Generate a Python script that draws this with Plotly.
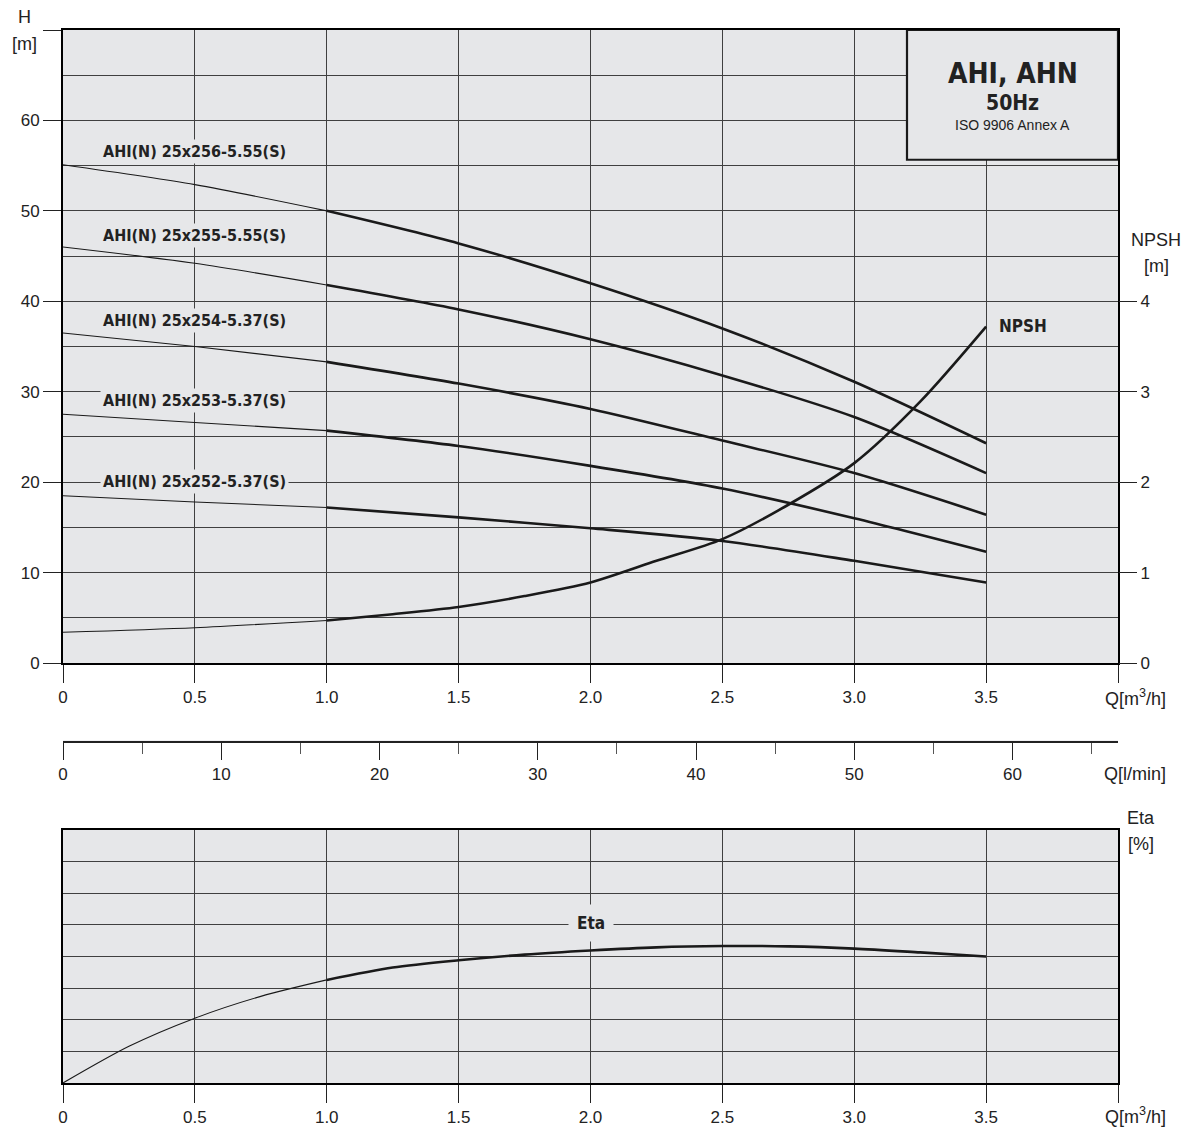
import plotly.graph_objects as go

# ---------------- data ----------------
Q = [0, 0.5, 1.0, 1.5, 2.0, 2.5, 3.0, 3.5]
H_256 = [55.1, 52.9, 50.0, 46.4, 42.0, 37.0, 31.1, 24.3]
H_255 = [46.0, 44.2, 41.8, 39.1, 35.8, 31.8, 27.2, 21.0]
H_254 = [36.5, 35.0, 33.3, 30.9, 28.1, 24.6, 21.0, 16.4]
H_253 = [27.5, 26.6, 25.7, 24.0, 21.8, 19.3, 16.0, 12.3]
H_252 = [18.5, 17.8, 17.2, 16.1, 14.9, 13.5, 11.3, 8.9]
curve_names = ["AHI(N) 25x256-5.55(S)", "AHI(N) 25x255-5.55(S)", "AHI(N) 25x254-5.37(S)",
               "AHI(N) 25x253-5.37(S)", "AHI(N) 25x252-5.37(S)"]
label_H = [56.6, 47.3, 37.9, 29.0, 20.1]

Q_npsh = [0, 0.5, 1.0, 1.25, 1.5, 1.75, 2.0, 2.25, 2.5, 2.75, 3.0, 3.25, 3.5]
NPSH = [0.34, 0.39, 0.47, 0.54, 0.62, 0.74, 0.89, 1.13, 1.37, 1.75, 2.21, 2.89, 3.72]

Q_eta = [0, 0.25, 0.5, 0.75, 1.0, 1.25, 1.5, 1.75, 2.0, 2.25, 2.5, 2.75, 3.0, 3.25, 3.5]
ETA = [0, 11.6, 20.5, 27.4, 32.6, 36.5, 38.8, 40.6, 41.9, 42.9, 43.3, 43.2, 42.5, 41.3, 40.0]

q_ticks = [0, 0.5, 1.0, 1.5, 2.0, 2.5, 3.0, 3.5, 4.0]
q_ticktext = ["0", "0.5", "1.0", "1.5", "2.0", "2.5", "3.0", "3.5", ""]
lmin_ticks = [0, 10, 20, 30, 40, 50, 60]

# ---------------- styling ----------------
OFF = 8  # default page (body) margin of the html page
W, HGT = 1197 - OFF, 1133 - OFF
BG = "#e6e7e9"
GRID = "#404040"
FONT = "Liberation Sans, Arial, sans-serif"
BOLD = "Liberation Sans Narrow, DejaVu Sans Condensed, Arial Narrow, sans-serif"
TICKFONT = dict(family=FONT, size=17, color="#222")

def px_x(p):
    return (p - OFF) / W

def px_y(p):
    return 1 - (p - OFF) / HGT

xdom = [px_x(63), px_x(1118)]
top_dom = [px_y(663), px_y(30)]
bot_dom = [px_y(1083), px_y(830)]
mid_pos = px_y(741)

fig = go.Figure()

def split(xs, ys, qsplit=1.0):
    thin_x = [x for x in xs if x <= qsplit]
    thin_y = ys[:len(thin_x)]
    i0 = len(thin_x) - 1
    return thin_x, thin_y, xs[i0:], ys[i0:]

def add_curve(xs, ys, xa, ya):
    tx, ty, kx, ky = split(xs, ys)
    fig.add_trace(go.Scatter(x=tx, y=ty, mode="lines", xaxis=xa, yaxis=ya,
                             line=dict(color="#1a1a1a", width=1.1, shape="spline", smoothing=0.8),
                             showlegend=False, hoverinfo="skip"))
    fig.add_trace(go.Scatter(x=kx, y=ky, mode="lines", xaxis=xa, yaxis=ya,
                             line=dict(color="#1a1a1a", width=2.6, shape="spline", smoothing=0.8),
                             showlegend=False, hoverinfo="skip"))

for hs in [H_256, H_255, H_254, H_253, H_252]:
    add_curve(Q, hs, "x", "y")
add_curve(Q_npsh, NPSH, "x", "y2")
add_curve(Q_eta, ETA, "x2", "y3")

# invisible trace to make the l/min axis exist
fig.add_trace(go.Scatter(x=[0], y=[0], xaxis="x3", yaxis="y5", mode="markers",
                         marker=dict(opacity=0), showlegend=False, hoverinfo="skip"))

frame = dict(showline=True, linecolor="black", linewidth=2, mirror=True)

fig.update_layout(
    width=W, height=HGT,
    margin=dict(l=0, r=0, t=0, b=0, autoexpand=False),
    paper_bgcolor="white", plot_bgcolor=BG,
    showlegend=False,
    xaxis=dict(domain=xdom, anchor="y", range=[0, 4], tickvals=q_ticks, ticktext=q_ticktext,
               ticks="outside", ticklen=18, tickcolor="#222", tickwidth=1.2, automargin=False,
               showgrid=True, gridcolor=GRID, gridwidth=1, zeroline=False,
               tickfont=TICKFONT, **frame),
    yaxis=dict(domain=top_dom, anchor="x", range=[0, 70], automargin=False,
               tickvals=[0, 10, 20, 30, 40, 50, 60, 70],
               ticktext=["0", "10", "20", "30", "40", "50", "60", ""],
               ticks="outside", ticklen=18, tickcolor="#222", tickwidth=1.2,
               showgrid=True, gridcolor=GRID, gridwidth=1, zeroline=False,
               minor=dict(dtick=5, tick0=0, showgrid=True, gridcolor=GRID, gridwidth=1),
               tickfont=TICKFONT, **frame),
    yaxis2=dict(overlaying="y", anchor="x", side="right", range=[0, 7], automargin=False,
                tickvals=[0, 1, 2, 3, 4], ticks="outside", ticklen=18, tickcolor="#222",
                tickwidth=1.2, showgrid=False, zeroline=False, showline=False,
                tickfont=TICKFONT),
    xaxis2=dict(domain=xdom, anchor="y3", range=[0, 4], tickvals=q_ticks, ticktext=q_ticktext,
                ticks="outside", ticklen=18, tickcolor="#222", tickwidth=1.2, automargin=False,
                showgrid=True, gridcolor=GRID, gridwidth=1, zeroline=False,
                tickfont=TICKFONT, **frame),
    yaxis3=dict(domain=bot_dom, anchor="x2", range=[0, 80], dtick=10, automargin=False,
                showticklabels=False, ticks="", showgrid=True, gridcolor=GRID,
                gridwidth=1, zeroline=False, **frame),
    yaxis4=dict(overlaying="y3", anchor="x2", side="right", range=[0, 80], automargin=False,
                tickvals=[0, 20, 40, 60, 80], ticktext=["0", "20", "40", "60", ""],
                ticks="outside", ticklen=18, tickcolor="#222", tickwidth=1.2,
                showgrid=False, zeroline=False, showline=False, tickfont=TICKFONT),
    xaxis3=dict(domain=xdom, anchor="y5", range=[0, 1000 * 4 / 60], tickvals=lmin_ticks,
                ticks="outside", ticklen=17, tickcolor="#222", tickwidth=1.2, automargin=False,
                minor=dict(dtick=5, tick0=0, ticks="outside", ticklen=11, tickcolor="#555",
                           tickwidth=1),
                showgrid=False, zeroline=False, showline=True, linecolor="#222", linewidth=2,
                tickfont=TICKFONT),
    yaxis5=dict(domain=[mid_pos, mid_pos + 0.0005], anchor="x3", visible=False,
                range=[0, 1], automargin=False),
)

# Title box (top-right)
fig.add_shape(type="rect", xref="x", yref="y", x0=3.2, x1=4.0, y0=55.65, y1=70,
              fillcolor=BG, line=dict(color="#1a1a1a", width=2.2), layer="above")

ann = []
ann.append(dict(x=3.6, y=65.2, xref="x", yref="y", text="<b>AHI, AHN</b>", showarrow=False,
                font=dict(family=BOLD, size=28, color="#222")))
ann.append(dict(x=3.6, y=61.9, xref="x", yref="y", text="<b>50Hz</b>", showarrow=False,
                font=dict(family=BOLD, size=21, color="#222")))
ann.append(dict(x=3.6, y=59.5, xref="x", yref="y", text="ISO 9906 Annex A", showarrow=False,
                font=dict(family=FONT, size=14, color="#222")))

for name, ly in zip(curve_names, label_H):
    ann.append(dict(x=0.5, y=ly, xref="x", yref="y", text="<b>" + name + "</b>",
                    showarrow=False, bgcolor=BG, borderpad=2,
                    font=dict(family=BOLD, size=16, color="#222")))

ann.append(dict(x=3.64, y=37.3, xref="x", yref="y", text="<b>NPSH</b>", showarrow=False,
                font=dict(family=BOLD, size=17, color="#222")))
ann.append(dict(x=2.0, y=50.5, xref="x2", yref="y3", text="<b>Eta</b>", showarrow=False,
                bgcolor=BG, borderpad=8, font=dict(family=BOLD, size=17, color="#222")))

# axis titles
def pa(x, y, text, xanchor="center"):
    ann.append(dict(x=px_x(x), y=px_y(y), xref="paper", yref="paper", text=text,
                    showarrow=False, xanchor=xanchor, yanchor="middle",
                    font=dict(family=FONT, size=18, color="#222")))

pa(24, 17, "H")
pa(24, 44, "[m]")
pa(1156, 240, "NPSH")
pa(1156, 266, "[m]")
pa(1135, 697, "Q[m<sup>3</sup>/h]")
pa(1135, 774, "Q[l/min]")
pa(1141, 818, "Eta")
pa(1141, 844, "[%]")
pa(1135, 1115, "Q[m<sup>3</sup>/h]")

fig.update_layout(annotations=ann)

fig.write_html("out.html")
